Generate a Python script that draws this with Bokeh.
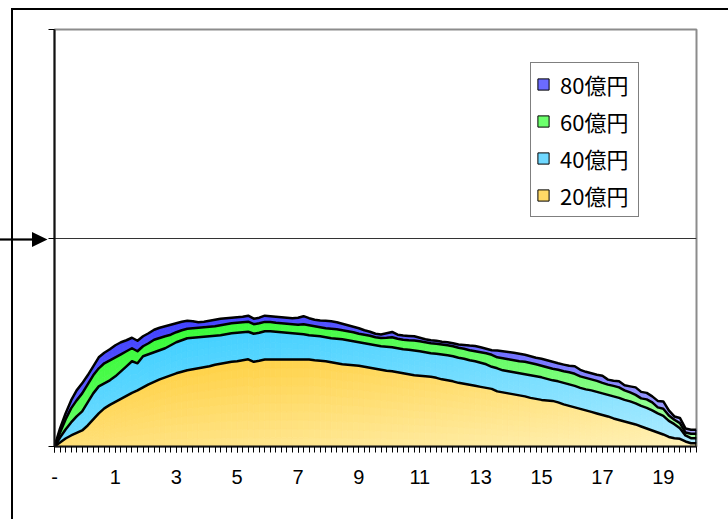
import urllib.parse
from bokeh.plotting import figure
from bokeh.models import (Range1d, FixedTicker, ColumnDataSource, Legend, LegendItem,
                          InlineStyleSheet)
from bokeh.embed import file_html
from bokeh.resources import INLINE

# ---------------- data ----------------
categories = list(range(117))
tick_positions = [0, 11, 22, 33, 44, 55, 66, 77, 88, 99, 110]
tick_labels = ["-", "1", "3", "5", "7", "9", "11", "13", "15", "17", "19"]
series_names = ["20億円", "40億円", "60億円", "80億円"]

# stack tops (cumulative), arbitrary units: gridline = 208
top_20 = [0, 4, 8, 11, 13.5, 16, 21, 27, 33, 38,
          41.5, 44.5, 47.5, 50.5, 53.5, 56, 59, 62, 64.5, 67,
          69, 71, 73, 74.5, 76, 77, 78, 79, 80, 81.5,
          82.5, 83.5, 84.5, 85, 86, 87, 84.5, 85.5, 86.7, 86.7,
          86.7, 86.7, 86.7, 86.7, 86.7, 86.7, 86.7, 86, 85.5, 85,
          84, 83, 82, 81.5, 81, 80.5, 79.5, 78.5, 77.5, 76.5,
          75.5, 75, 74, 73, 72, 71, 70.5, 70, 69.5, 68.5,
          67, 66, 65, 63.5, 62.5, 61.5, 60.5, 59.5, 58.5, 57.5,
          55, 54, 53, 52, 51, 50, 48.5, 47.5, 46.5, 46,
          45.5, 44, 42, 40.5, 39, 37.5, 36, 34.5, 33, 31.5,
          30, 28, 26.5, 25, 23.5, 22, 20, 18, 16, 14,
          12, 9.5, 8.3, 7.7, 5, 3.3, 3.3]
top_40 = [0, 9, 17, 24, 30, 35, 44, 53, 60, 63,
          66, 70, 75, 80, 85, 83, 90, 92, 94, 96,
          98, 101, 104, 106, 108, 108.5, 109, 109.5, 110, 110.5,
          111, 112, 113, 113.5, 114, 114.5, 112.5, 113.5, 115, 115,
          114.5, 114, 113.5, 113, 112.5, 112, 111, 110.5, 110, 109,
          108, 107.5, 107, 106, 105, 104, 103, 102, 101, 100,
          99.5, 99, 98, 97, 96.5, 95.7, 95, 94, 93, 92.5,
          91.7, 91, 90, 88.5, 87.5, 86, 85, 83.5, 82, 79.5,
          78, 76, 75, 74, 73, 72, 71, 70, 69, 67.5,
          66, 65, 63.5, 62, 60.5, 58.5, 57, 56, 54.5, 53,
          51.5, 50, 48.5, 46.5, 45, 43, 40.5, 38.5, 36, 33,
          30.5, 25.5, 22.3, 18.3, 11, 8.3, 8.3]
top_60 = [0, 14, 27, 38, 46, 53, 62, 71, 78, 83,
          86, 89, 92, 95, 98, 95, 100, 103, 106.5, 108.3,
          110, 111.5, 114, 116, 117.5, 118, 118.5, 119, 119.5, 120,
          121, 122, 123, 123.5, 124, 124.5, 122, 123, 124.3, 124.3,
          123.5, 123, 122.5, 122, 121.5, 122, 121, 120, 119, 118,
          117.5, 117, 116, 115, 114, 112.5, 111.5, 110.5, 109, 108.3,
          108.5, 109, 107.5, 106.5, 106, 105.7, 105, 104, 103, 102.5,
          101.7, 101, 100, 98.5, 97.5, 96, 95, 94, 93, 91.5,
          89, 88, 87, 86, 85, 84.5, 83.3, 82, 80.5, 79,
          77.5, 76.5, 75, 74, 72.5, 70, 68.5, 67, 65.5, 63.5,
          61.7, 60.5, 59, 56, 54, 51.5, 48, 47, 44, 39,
          37.7, 31, 26.7, 23.3, 14, 12.7, 12.7]
top_80 = [0, 18, 33, 46, 56, 63, 71, 80, 89, 93.5,
          97, 101, 104, 106, 108.5, 105.5, 110, 113, 116.5, 118.5,
          120, 121.5, 123, 124.5, 125.5, 125, 124, 124.5, 125.5, 126.5,
          127.5, 128, 128.5, 129, 129.5, 130.5, 127.5, 128.5, 130.5, 130,
          129.5, 129, 128.5, 128, 128.5, 130, 128, 126.5, 125.7, 125.5,
          125, 124, 122.5, 121, 119.5, 118, 116, 114.5, 112.5, 111.7,
          113, 114.3, 111.5, 110.7, 110.3, 110, 108.5, 107, 106, 105.5,
          104.5, 104, 103, 101.7, 101.3, 100.7, 100.3, 99, 97.5, 96,
          95.7, 95, 94.3, 93.5, 92.5, 91.5, 90, 88.5, 87.5, 86,
          84.5, 83, 81.7, 80.5, 80, 76.5, 74.5, 73, 71.5, 70.5,
          66.7, 65.5, 65, 61, 60, 59, 54.5, 53.5, 50, 45.5,
          45, 36, 30, 28.5, 18, 16.7, 16.7]

tops = [top_20, top_40, top_60, top_80]
# colours: saturated (top-left) -> pale (bottom-right)
grad_start = [(255, 204, 51), (51, 204, 255), (40, 250, 40), (51, 51, 255)]
grad_end = [(255, 242, 185), (175, 236, 255), (170, 255, 170), (175, 175, 255)]
legend_colors = ["#ffd966", "#6fd8ff", "#6cff6c", "#6b6bff"]
bands = [10, 5, 3, 3]


def lerp(c1, c2, t):
    t = min(max(t, 0.0), 1.0)
    return "#%02x%02x%02x" % tuple(int(round(a + (b - a) * t)) for a, b in zip(c1, c2))


# outer chart border and the arrow on the left, drawn by CSS around the canvas
arrow_svg = ("<svg xmlns='http://www.w3.org/2000/svg' width='60' height='20'>"
             "<rect x='0' y='9.4' width='34' height='2.2' fill='black'/>"
             "<polygon points='32,3 47.5,10.5 32,18' fill='black'/></svg>")
arrow_url = "data:image/svg+xml;charset=utf-8," + urllib.parse.quote(arrow_svg)
css = (":host { position: relative; overflow: hidden; }\n"
       ":host::after { content: ''; position: absolute; left: 11px; top: 8px;"
       " width: 900px; height: 700px; border: 2.5px solid black; box-sizing: border-box;"
       " pointer-events: none; z-index: 20; }\n"
       ":host::before { content: ''; position: absolute; left: 0px; top: 229px;"
       " width: 60px; height: 20px; background-image: url(\"" + arrow_url + "\");"
       " background-repeat: no-repeat; pointer-events: none; z-index: 20; }\n")

p = figure(width=728, height=519, output_backend="svg", toolbar_location=None,
           x_range=Range1d(0, 116), y_range=Range1d(0, 416),
           min_border_left=54, min_border_right=32, min_border_top=29,
           min_border_bottom=73)
p.stylesheets = [InlineStyleSheet(css=css)]
p.background_fill_color = "white"
p.border_fill_color = "white"
p.outline_line_color = "#8c8c8c"
p.outline_line_width = 2
p.xgrid.visible = False
p.ygrid.ticker = FixedTicker(ticks=[208])
p.ygrid.grid_line_color = "#333333"
p.ygrid.grid_line_width = 1

n = len(categories)
lower = [0.0] * n
for s, up in enumerate(tops):
    ymax = max(up)
    K = bands[s]
    pxs, pys, cols = [], [], []
    for i in range(n - 1):
        for k in range(K):
            f0, f1 = k / K, (k + 1) / K
            a0 = lower[i] + (up[i] - lower[i]) * f0
            b0 = lower[i + 1] + (up[i + 1] - lower[i + 1]) * f0
            b1 = lower[i + 1] + (up[i + 1] - lower[i + 1]) * f1
            a1 = lower[i] + (up[i] - lower[i]) * f1
            pxs.append([categories[i], categories[i + 1], categories[i + 1], categories[i]])
            pys.append([a0, b0, b1, a1])
            yc = (a0 + b0 + b1 + a1) / 4
            t = 0.5 * (i + 0.5) / (n - 1) + 0.5 * (ymax - yc) / ymax
            cols.append(lerp(grad_start[s], grad_end[s], t))
    src = ColumnDataSource(dict(xs=pxs, ys=pys, c=cols))
    p.patches("xs", "ys", source=src, fill_color="c", line_color="c", line_width=0.8)
    lower = list(up)

for up in tops:
    p.line(categories, up, line_color="black", line_width=2.5, line_join="round")
p.segment(x0=[categories[-1]], y0=[0], x1=[categories[-1]], y1=[top_80[-1]],
          line_color="black", line_width=2.5)

# axes
xa = p.xaxis[0]
xa.ticker = FixedTicker(ticks=tick_positions, minor_ticks=categories)
xa.major_label_overrides = {pos: lab for pos, lab in zip(tick_positions, tick_labels)}
xa.major_tick_out = 6
xa.major_tick_in = 0
xa.minor_tick_out = 6
xa.minor_tick_in = 0
xa.major_tick_line_color = "black"
xa.minor_tick_line_color = "black"
xa.axis_line_color = "#111111"
xa.axis_line_width = 2
xa.major_label_text_font = "Liberation Sans"
xa.major_label_text_font_size = "20px"
xa.major_label_text_color = "black"
xa.major_label_standoff = 17

ya = p.yaxis[0]
ya.ticker = FixedTicker(ticks=[0, 208, 416])
ya.major_label_text_font_size = "0px"
ya.major_label_overrides = {0: "", 208: "", 416: ""}
ya.major_tick_out = 6
ya.major_tick_in = 0
ya.minor_tick_line_color = None
ya.major_tick_line_color = "black"
ya.axis_line_color = "#111111"
ya.axis_line_width = 2

# legend swatches: one quad each, lying outside the visible x range
items = []
for s in [3, 2, 1, 0]:
    r = p.quad(left=[-20], right=[-19], top=[1], bottom=[0], fill_color=legend_colors[s],
               line_color="black", line_width=1)
    items.append(LegendItem(label=series_names[s], renderers=[r]))
legend = Legend(items=items, location=(476, 229))
legend.border_line_color = "black"
legend.border_line_width = 1
legend.background_fill_color = "white"
legend.background_fill_alpha = 1
legend.padding = 5
legend.spacing = 5
legend.margin = 0
legend.glyph_width = 14
legend.glyph_height = 14
legend.label_standoff = 10
legend.label_height = 24
legend.label_width = 73
legend.label_text_font = "Noto Sans CJK JP"
legend.label_text_font_size = "22px"
legend.label_text_color = "black"
p.add_layout(legend)

open("out.html", "w").write(file_html(p, INLINE))
